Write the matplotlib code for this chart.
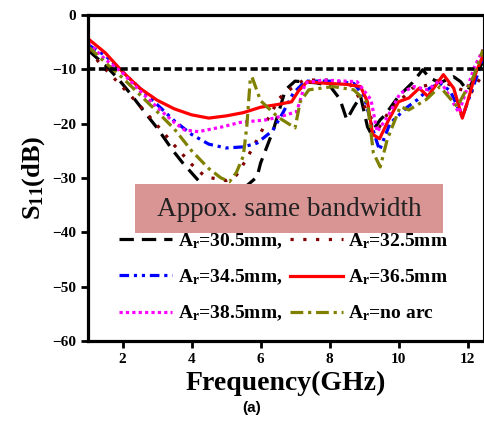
import matplotlib
matplotlib.use("Agg")
import matplotlib.pyplot as plt
from matplotlib.patches import Rectangle

plt.rcParams["font.family"] = ["Liberation Serif", "DejaVu Serif"]
plt.rcParams["mathtext.fontset"] = "custom"
plt.rcParams["mathtext.rm"] = "Liberation Serif:bold"
plt.rcParams["mathtext.it"] = "Liberation Serif:bold"
plt.rcParams["mathtext.bf"] = "Liberation Serif:bold"

# (GHz, dB)
f_305 = [1.0, 1.5, 1.85, 2.2, 2.65, 3.0, 3.45, 3.75, 4.2, 4.6, 5.0, 5.5, 5.9, 6.0, 6.37, 6.72, 7.0, 7.6, 8.0, 8.3,
         8.5, 8.7, 8.9, 9.1, 9.2, 9.47, 9.6, 10.0, 10.4, 10.7, 10.9, 11.2, 11.6, 11.8, 12.0, 12.3, 12.45]
s_305 = [-6.5, -9.3, -11.6, -14.3, -18.0, -20.8, -24.9, -27.3, -30.5, -32.5, -33.5, -32.0, -29.8, -27.3, -21.2, -13.8,
         -12.2, -12.5, -13.0, -15.5, -19.3, -17.0, -15.0, -20.6, -21.8, -19.3, -18.5, -15.0, -12.5, -10.1, -11.6, -12.5,
         -11.4, -12.3, -14.0, -10.5, -8.5]

f_325 = [1.0, 1.5, 2.0, 2.5, 3.0, 3.5, 4.0, 4.4, 5.0, 5.3, 5.55, 5.9, 6.2, 6.55, 6.9, 7.25, 8.0, 8.6, 8.9, 9.2, 9.45,
         9.7, 10.4, 10.8, 11.2, 11.7, 12.1, 12.45]
s_325 = [-6.5, -10.0, -13.3, -16.7, -20.3, -24.0, -27.5, -29.8, -30.5, -29.5, -27.0, -23.0, -19.3, -15.3, -13.5, -12.0,
         -12.0, -12.8, -15.6, -19.0, -20.6, -18.0, -13.5, -13.0, -12.0, -13.5, -14.4, -10.8]

f_345 = [1.0, 1.5, 2.0, 2.5, 3.0, 3.5, 4.0, 4.5, 5.0, 5.5, 5.9, 6.35, 6.65, 6.95, 7.3, 8.0, 8.7, 9.0, 9.3, 9.45, 9.75,
         10.25, 10.55, 10.9, 11.2, 11.5, 11.85, 12.3, 12.45]
s_345 = [-5.5, -7.5, -10.5, -13.5, -16.5, -19.5, -22.0, -23.8, -24.5, -24.3, -23.6, -21.3, -18.0, -14.4, -12.2, -12.2,
         -12.6, -15.0, -22.0, -24.9, -20.0, -17.0, -15.6, -13.5, -12.6, -14.0, -18.8, -10.8, -8.0]

f_365 = [1.0, 1.5, 2.0, 2.5, 3.0, 3.5, 4.0, 4.5, 5.0, 5.5, 6.0, 6.5, 6.9, 7.1, 7.35, 7.9, 8.5, 8.9, 9.1, 9.25, 9.45,
         9.7, 10.0, 10.3, 10.6, 10.85, 11.3, 11.6, 11.85, 12.0, 12.25, 12.45]
s_365 = [-4.4, -7.0, -10.5, -13.5, -15.7, -17.3, -18.4, -19.0, -18.6, -18.0, -17.0, -16.5, -16.0, -14.0, -12.3, -12.6,
         -12.8, -13.2, -16.0, -22.0, -22.8, -19.5, -16.0, -15.3, -13.5, -15.0, -11.0, -13.5, -19.0, -16.0, -10.5, -7.5]

f_385 = [1.0, 1.5, 2.0, 2.5, 3.0, 3.5, 3.8, 4.2, 4.9, 5.4, 6.2, 6.7, 7.05, 7.3, 7.8, 8.8, 9.2, 9.38, 9.68, 10.05,
         10.45, 10.85, 11.2, 11.75, 12.2, 12.45]
s_385 = [-5.2, -8.2, -10.7, -14.0, -17.0, -19.8, -21.2, -21.5, -20.6, -19.8, -19.3, -18.5, -17.8, -12.5, -12.0, -12.3,
         -15.6, -21.5, -18.8, -14.4, -13.2, -13.8, -12.0, -18.0, -9.6, -6.4]

f_noarc = [1.0, 1.5, 2.0, 2.5, 3.0, 3.5, 4.0, 4.5, 4.85, 5.1, 5.3, 5.5, 5.6, 5.7, 5.75, 6.0, 6.5, 7.0, 7.15, 7.4, 8.1,
           8.7, 9.1, 9.27, 9.47, 9.67, 10.05, 10.3, 10.8, 11.2, 11.7, 12.17, 12.45]
s_noarc = [-5.8, -8.8, -11.6, -14.7, -17.8, -21.0, -25.0, -28.3, -30.0, -30.7, -29.0, -26.0, -20.6, -12.0, -11.4, -15.8,
           -18.8, -20.8, -16.0, -13.8, -13.2, -13.8, -16.2, -25.4, -28.0, -23.0, -16.9, -17.5, -15.6, -13.2, -16.9,
           -11.4, -6.4]

labels = [r"A$_r$=30.5mm,", r"A$_r$=32.5mm", r"A$_r$=34.5mm,", r"A$_r$=36.5mm", r"A$_r$=38.5mm,", r"A$_r$=no arc"]
ref_level = -10

fig = plt.figure(figsize=(4.84, 4.24), dpi=100)
ax = fig.add_axes([0.182, 0.196, 0.816, 0.769])

lw = 2.3
h0, = ax.plot(f_305, s_305, color="black", lw=lw, ls=(0, (4.5, 2.5)), label=labels[0])
h1, = ax.plot(f_325, s_325, color="#800000", lw=lw, ls=(0, (1, 3)), label=labels[1])
h2, = ax.plot(f_345, s_345, color="#0000FF", lw=lw, ls=(0, (3, 1.5, 1, 1.5, 1, 1.5)), label=labels[2])
h3, = ax.plot(f_365, s_365, color="#FF0000", lw=lw, ls="-", label=labels[3])
h4, = ax.plot(f_385, s_385, color="#FF00FF", lw=lw, ls=(0, (1, 1)), label=labels[4])
h5, = ax.plot(f_noarc, s_noarc, color="#808000", lw=lw, ls=(0, (4, 1.5, 1, 1.5)), label=labels[5])
ax.axhline(ref_level, color="black", lw=2.6, ls=(0, (2, 1)))

# annotation box
ax.add_patch(Rectangle((2.36, -40.1), 8.94, 9.0, facecolor="#D99594", edgecolor="none", zorder=5))
ax.text(6.83, -35.8, "Appox. same bandwidth", ha="center", va="center", fontsize=19.5, color="#222222", zorder=6)

ax.set_xlim(1, 12.45)
ax.set_ylim(-60, 0)
ax.set_xticks([2, 4, 6, 8, 10, 12])
ax.set_yticks([0, -10, -20, -30, -40, -50, -60])
ax.tick_params(direction="out", length=5, width=2, labelsize=11)
for lab in ax.get_xticklabels() + ax.get_yticklabels():
    lab.set_fontweight("bold")

for s in ["left", "bottom", "top"]:
    ax.spines[s].set_linewidth(2.3)
ax.spines["right"].set_linewidth(0.8)

ax.set_xlabel("Frequency(GHz)", fontsize=20, fontweight="bold", labelpad=4)
ax.set_ylabel(r"S$_{11}$(dB)", fontsize=19, fontweight="bold", labelpad=4)

# row-wise order: matplotlib fills legend columns first
ax.legend([h0, h2, h4, h1, h3, h5], [labels[0], labels[2], labels[4], labels[1], labels[3], labels[5]],
          ncol=2, loc="lower left", bbox_to_anchor=(0.035, 0.0), frameon=False,
          prop={"size": 14, "weight": "bold"}, handlelength=2.7, handletextpad=0.3,
          columnspacing=0.4, labelspacing=0.85)

fig.text(252 / 484, 1 - 408 / 424, "(a)", ha="center", va="center", fontsize=11, fontweight="bold",
         family="Liberation Sans")

fig.savefig("out.png", dpi=100)
